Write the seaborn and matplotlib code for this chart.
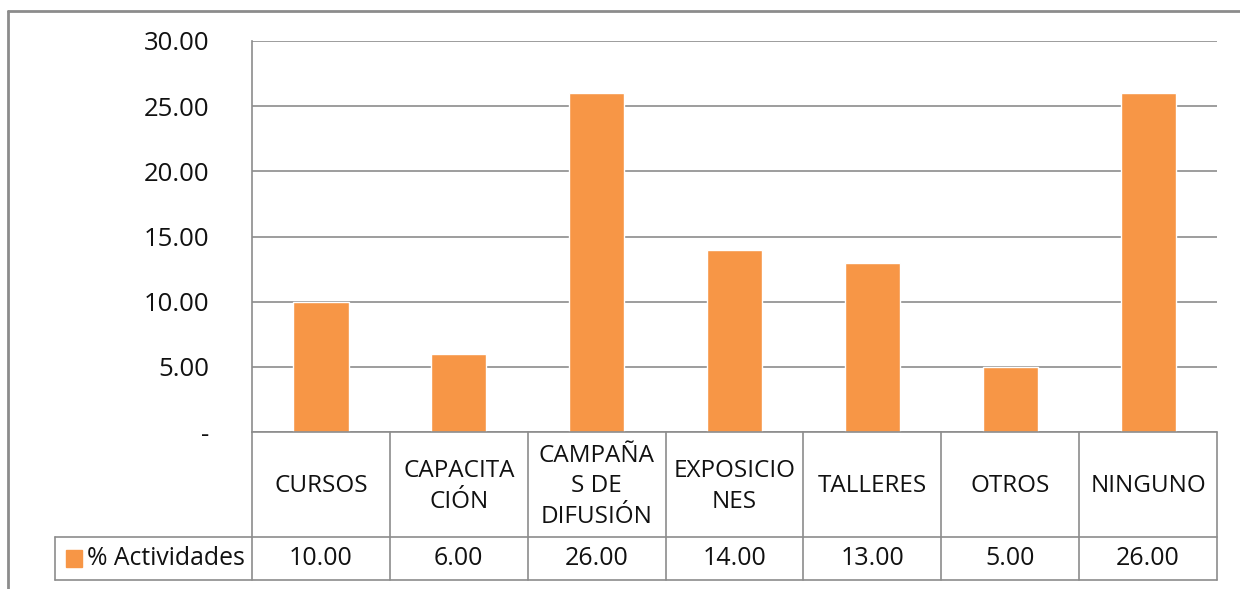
import matplotlib
matplotlib.use('Agg')
import matplotlib.pyplot as plt
import matplotlib.transforms as mtransforms
from matplotlib.lines import Line2D
from matplotlib.patches import Rectangle
import pandas as pd
import seaborn as sns

# data
categories = ['CURSOS', 'CAPACITACIÓN', 'CAMPAÑAS DE DIFUSIÓN', 'EXPOSICIONES',
              'TALLERES', 'OTROS', 'NINGUNO']
table_labels = ['CURSOS', 'CAPACITA\nCIÓN', 'CAMPAÑA\nS DE\nDIFUSIÓN', 'EXPOSICIO\nNES',
                'TALLERES', 'OTROS', 'NINGUNO']
values = [10.00, 6.00, 26.00, 14.00, 13.00, 5.00, 26.00]
series_name = '% Actividades'
y_ticks = [0, 5, 10, 15, 20, 25, 30]

df = pd.DataFrame({'cat': categories, 'val': values})

sns.set_style('white')
plt.rcParams['font.family'] = ['Open Sans', 'DejaVu Sans']
grey = '#8c8c8c'
orange = '#F79646'
txt = '#111111'

W, H = 1240, 589
fig = plt.figure(figsize=(W / 100, H / 100), dpi=100)
# plot area in pixels: x 252..1217, y 41..432
ax = fig.add_axes([252 / W, 1 - 432 / H, 965 / W, 391 / H])

sns.barplot(data=df, x='cat', y='val', color=orange, width=0.4, saturation=1, ax=ax)

ax.set_ylim(0, 30)
ax.set_xlim(-0.5, len(categories) - 0.5)
ax.set_yticks(y_ticks)
ax.set_yticklabels(['-' if t == 0 else f'{t:.2f}' for t in y_ticks], fontsize=18.5, color=txt)
ax.tick_params(axis='y', length=0, pad=31)
ax.set_xticks([])
ax.set_xlabel('')
ax.set_ylabel('')
ax.yaxis.grid(True, color=grey, linewidth=1.2)
ax.set_axisbelow(True)
for side in ['top', 'right', 'bottom']:
    ax.spines[side].set_visible(False)
ax.spines['left'].set_color(grey)
ax.spines['left'].set_linewidth(1.2)

# data table under the plot
tr = mtransforms.blended_transform_factory(ax.transData, fig.transFigure)
y_axis = 1 - 432 / H
y_mid = 1 - 537 / H
y_bot = 1 - 580 / H
x_left_fig = 55 / W
n = len(categories)

def fline(xs, ys, transform):
    fig.add_artist(Line2D(xs, ys, color=grey, linewidth=1.2, transform=transform, clip_on=False))

# horizontal lines
fline([-0.5, n - 0.5], [y_axis, y_axis], tr)
fig.add_artist(Line2D([x_left_fig, 1217 / W], [y_mid, y_mid], color=grey, linewidth=1.2))
fig.add_artist(Line2D([x_left_fig, 1217 / W], [y_bot, y_bot], color=grey, linewidth=1.2))
# vertical lines
for i in range(n + 1):
    fline([i - 0.5, i - 0.5], [y_axis, y_bot], tr)
fig.add_artist(Line2D([x_left_fig, x_left_fig], [y_mid, y_bot], color=grey, linewidth=1.2))

for i, (lab, v) in enumerate(zip(table_labels, values)):
    fig.text(i, (y_axis + y_mid) / 2 - 2 / H, lab, transform=tr, ha='center', va='center',
             fontsize=17.5, linespacing=1.35, color=txt)
    fig.text(i, (y_mid + y_bot) / 2, f'{v:.2f}', transform=tr, ha='center', va='center',
             fontsize=18, color=txt)

# legend key in the table
fig.add_artist(Rectangle((66 / W, 1 - 567 / H), 16 / W, 17 / H, color=orange))
fig.text(87 / W, (y_mid + y_bot) / 2, series_name, ha='left', va='center',
         fontsize=17.8, color=txt)

# outer chart frame (partly cropped)
fig.add_artist(Line2D([8 / W, 1], [1 - 11 / H, 1 - 11 / H], color=grey, linewidth=2))
fig.add_artist(Line2D([8 / W, 8 / W], [0, 1 - 11 / H], color=grey, linewidth=2))

fig.savefig('out.png', dpi=100)
plt.close(fig)
